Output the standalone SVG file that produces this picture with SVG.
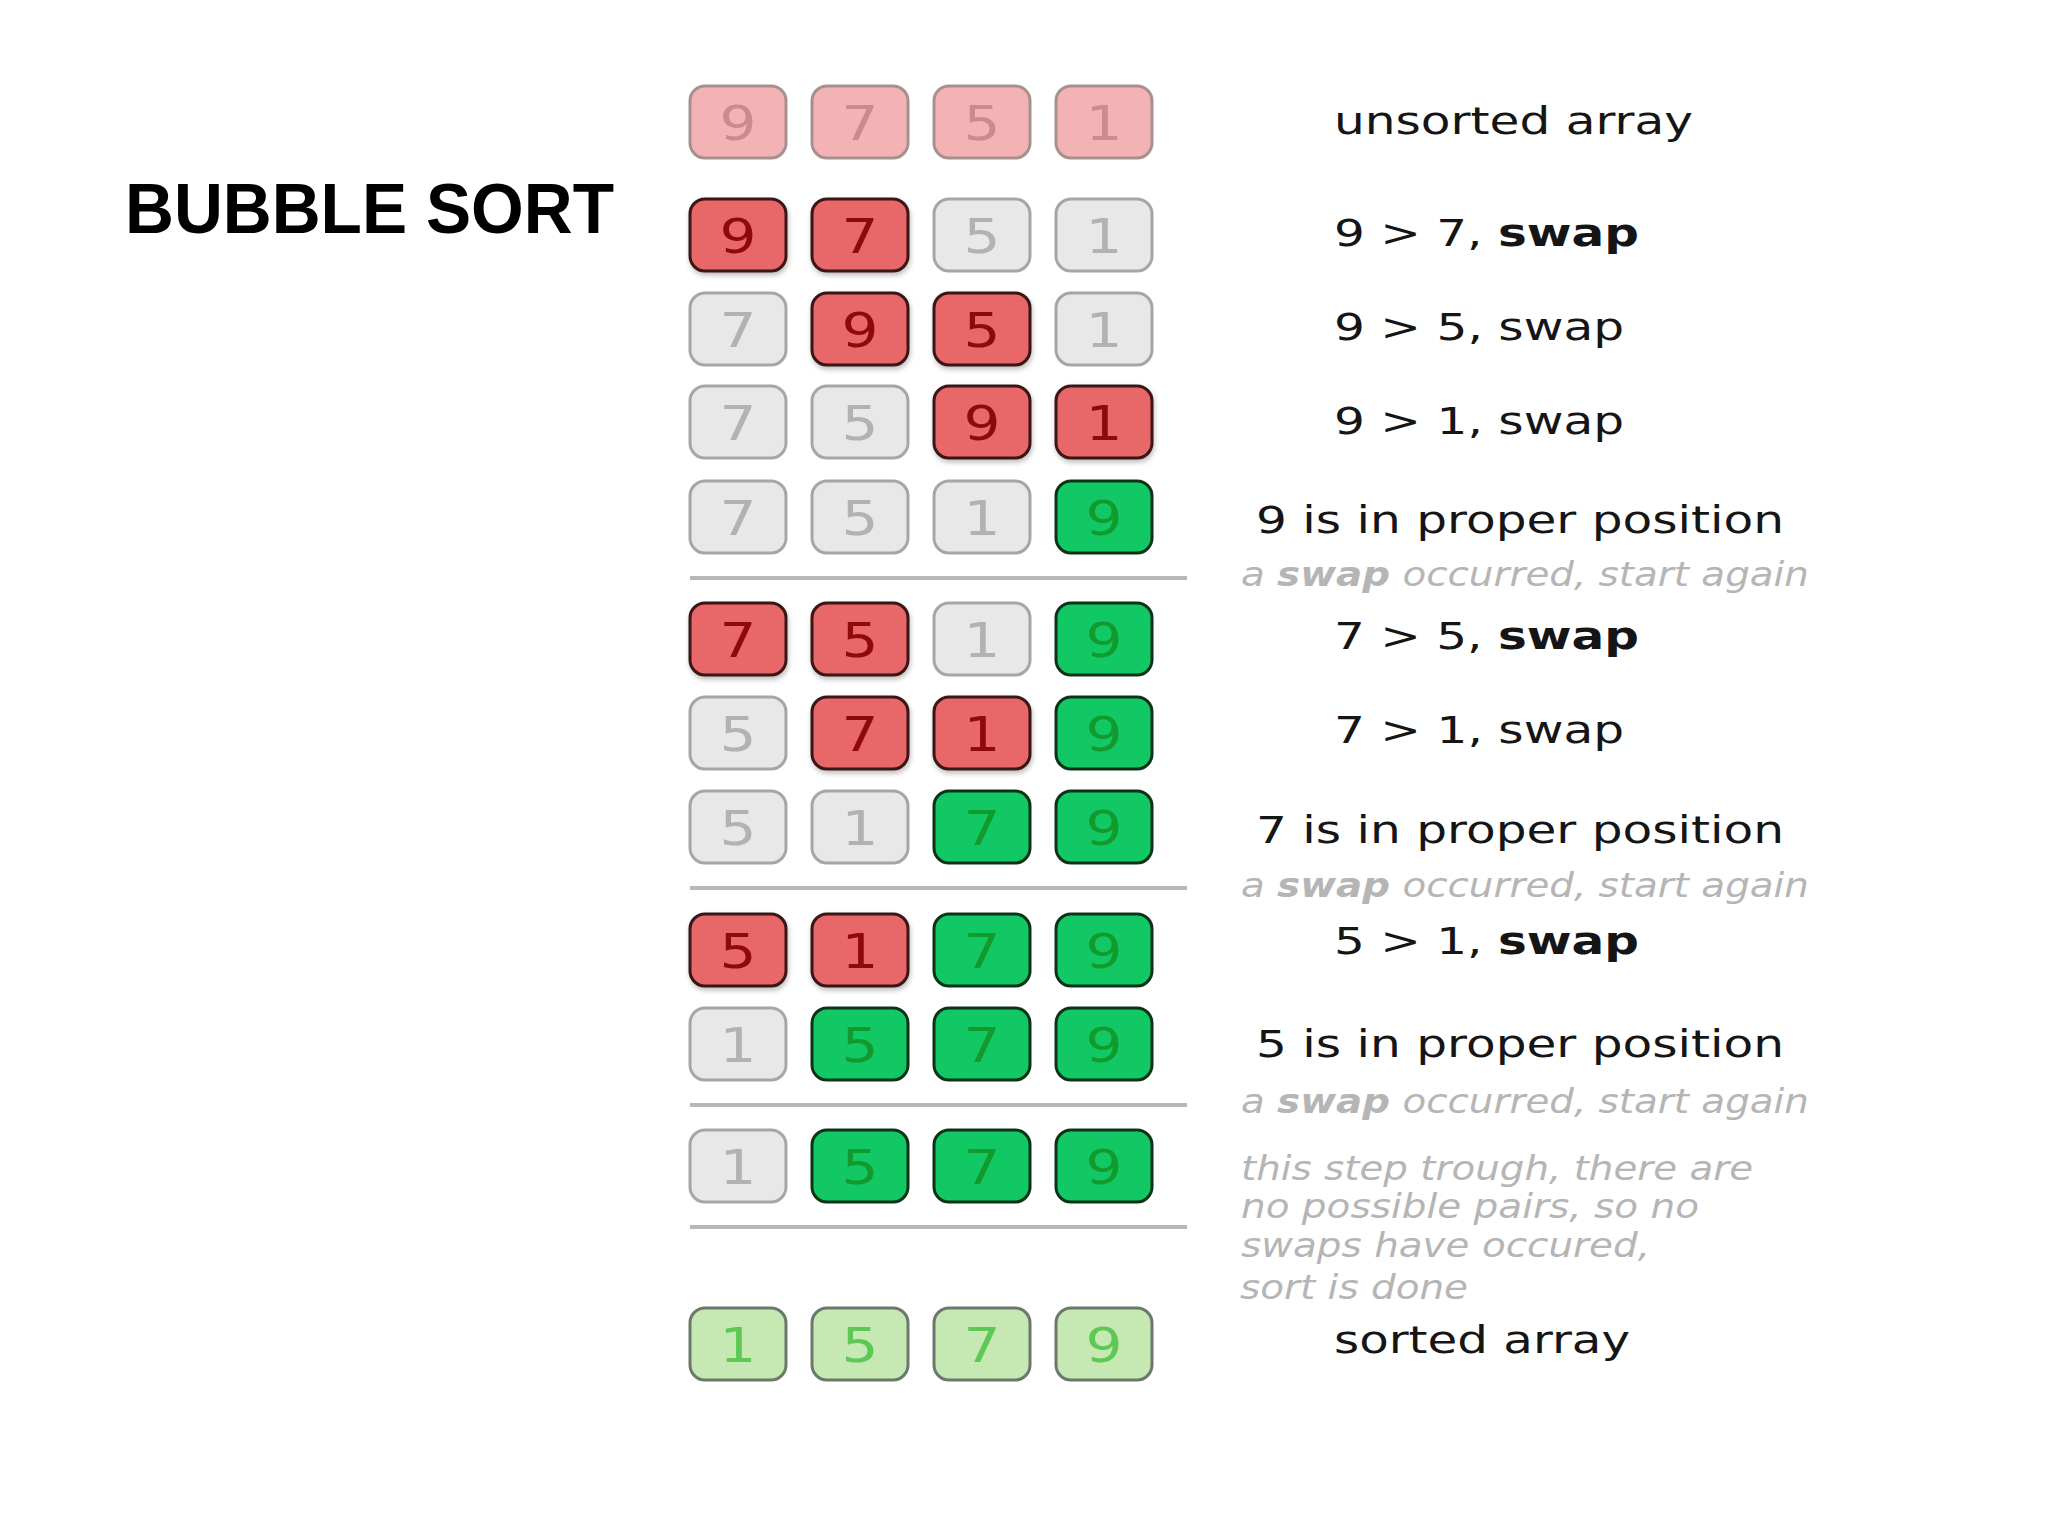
<svg xmlns="http://www.w3.org/2000/svg" width="2048" height="1536" viewBox="0 0 2048 1536">
<defs>
<filter id="sh" x="-20%" y="-20%" width="140%" height="150%"><feDropShadow dx="1" dy="3" stdDeviation="2.5" flood-color="#000" flood-opacity="0.25"/></filter>
</defs>
<style>
.b{stroke-width:3}
.pk{fill:#f3b3b5;stroke:#a8908f}
.rd{fill:#e8676a;stroke:#3b1212;filter:url(#sh)}
.gy{fill:#e8e8e8;stroke:#a6a6a6}
.gn{fill:#12c865;stroke:#0c3318}
.lg{fill:#c6e8b2;stroke:#6d786c}
.d{font-family:"DejaVu Sans",sans-serif;font-size:48px;text-anchor:middle}
.tpk{fill:#c98b8d}.trd{fill:#8e0a0a}.tgy{fill:#b2b2b2}.tgn{fill:#139a2c}.tlg{fill:#5dc954}
.lab{font-family:"DejaVu Sans",sans-serif;font-size:37px;fill:#151515}
.note{font-family:"DejaVu Sans",sans-serif;font-size:33px;font-style:italic;fill:#b5b5b5}
.sep{stroke:#b8b8b8;stroke-width:4}
.title{font-family:"Liberation Sans",Arial,sans-serif;font-size:70px;font-weight:bold;fill:#000}
</style>
<rect width="2048" height="1536" fill="#fff"/>
<text class="title" x="125" y="233" textLength="489" lengthAdjust="spacingAndGlyphs">BUBBLE SORT</text>

<g id="separators">
<line class="sep" x1="690" y1="578" x2="1187" y2="578"/>
<line class="sep" x1="690" y1="888" x2="1187" y2="888"/>
<line class="sep" x1="690" y1="1105" x2="1187" y2="1105"/>
<line class="sep" x1="690" y1="1227" x2="1187" y2="1227"/>
</g>

<g id="row0">
<rect class="b pk" x="690" y="86" width="96" height="72" rx="15"/><text class="d tpk" x="738" y="139.5" textLength="37" lengthAdjust="spacingAndGlyphs">9</text>
<rect class="b pk" x="812" y="86" width="96" height="72" rx="15"/><text class="d tpk" x="860" y="139.5" textLength="37" lengthAdjust="spacingAndGlyphs">7</text>
<rect class="b pk" x="934" y="86" width="96" height="72" rx="15"/><text class="d tpk" x="982" y="139.5" textLength="37" lengthAdjust="spacingAndGlyphs">5</text>
<rect class="b pk" x="1056" y="86" width="96" height="72" rx="15"/><text class="d tpk" x="1104" y="139.5" textLength="37" lengthAdjust="spacingAndGlyphs">1</text>
</g>
<g id="row1">
<rect class="b rd" x="690" y="199" width="96" height="72" rx="15"/><text class="d trd" x="738" y="252.5" textLength="37" lengthAdjust="spacingAndGlyphs">9</text>
<rect class="b rd" x="812" y="199" width="96" height="72" rx="15"/><text class="d trd" x="860" y="252.5" textLength="37" lengthAdjust="spacingAndGlyphs">7</text>
<rect class="b gy" x="934" y="199" width="96" height="72" rx="15"/><text class="d tgy" x="982" y="252.5" textLength="37" lengthAdjust="spacingAndGlyphs">5</text>
<rect class="b gy" x="1056" y="199" width="96" height="72" rx="15"/><text class="d tgy" x="1104" y="252.5" textLength="37" lengthAdjust="spacingAndGlyphs">1</text>
</g>
<g id="row2">
<rect class="b gy" x="690" y="293" width="96" height="72" rx="15"/><text class="d tgy" x="738" y="346.5" textLength="37" lengthAdjust="spacingAndGlyphs">7</text>
<rect class="b rd" x="812" y="293" width="96" height="72" rx="15"/><text class="d trd" x="860" y="346.5" textLength="37" lengthAdjust="spacingAndGlyphs">9</text>
<rect class="b rd" x="934" y="293" width="96" height="72" rx="15"/><text class="d trd" x="982" y="346.5" textLength="37" lengthAdjust="spacingAndGlyphs">5</text>
<rect class="b gy" x="1056" y="293" width="96" height="72" rx="15"/><text class="d tgy" x="1104" y="346.5" textLength="37" lengthAdjust="spacingAndGlyphs">1</text>
</g>
<g id="row3">
<rect class="b gy" x="690" y="386" width="96" height="72" rx="15"/><text class="d tgy" x="738" y="439.5" textLength="37" lengthAdjust="spacingAndGlyphs">7</text>
<rect class="b gy" x="812" y="386" width="96" height="72" rx="15"/><text class="d tgy" x="860" y="439.5" textLength="37" lengthAdjust="spacingAndGlyphs">5</text>
<rect class="b rd" x="934" y="386" width="96" height="72" rx="15"/><text class="d trd" x="982" y="439.5" textLength="37" lengthAdjust="spacingAndGlyphs">9</text>
<rect class="b rd" x="1056" y="386" width="96" height="72" rx="15"/><text class="d trd" x="1104" y="439.5" textLength="37" lengthAdjust="spacingAndGlyphs">1</text>
</g>
<g id="row4">
<rect class="b gy" x="690" y="481" width="96" height="72" rx="15"/><text class="d tgy" x="738" y="534.5" textLength="37" lengthAdjust="spacingAndGlyphs">7</text>
<rect class="b gy" x="812" y="481" width="96" height="72" rx="15"/><text class="d tgy" x="860" y="534.5" textLength="37" lengthAdjust="spacingAndGlyphs">5</text>
<rect class="b gy" x="934" y="481" width="96" height="72" rx="15"/><text class="d tgy" x="982" y="534.5" textLength="37" lengthAdjust="spacingAndGlyphs">1</text>
<rect class="b gn" x="1056" y="481" width="96" height="72" rx="15"/><text class="d tgn" x="1104" y="534.5" textLength="37" lengthAdjust="spacingAndGlyphs">9</text>
</g>
<g id="row5">
<rect class="b rd" x="690" y="603" width="96" height="72" rx="15"/><text class="d trd" x="738" y="656.5" textLength="37" lengthAdjust="spacingAndGlyphs">7</text>
<rect class="b rd" x="812" y="603" width="96" height="72" rx="15"/><text class="d trd" x="860" y="656.5" textLength="37" lengthAdjust="spacingAndGlyphs">5</text>
<rect class="b gy" x="934" y="603" width="96" height="72" rx="15"/><text class="d tgy" x="982" y="656.5" textLength="37" lengthAdjust="spacingAndGlyphs">1</text>
<rect class="b gn" x="1056" y="603" width="96" height="72" rx="15"/><text class="d tgn" x="1104" y="656.5" textLength="37" lengthAdjust="spacingAndGlyphs">9</text>
</g>
<g id="row6">
<rect class="b gy" x="690" y="697" width="96" height="72" rx="15"/><text class="d tgy" x="738" y="750.5" textLength="37" lengthAdjust="spacingAndGlyphs">5</text>
<rect class="b rd" x="812" y="697" width="96" height="72" rx="15"/><text class="d trd" x="860" y="750.5" textLength="37" lengthAdjust="spacingAndGlyphs">7</text>
<rect class="b rd" x="934" y="697" width="96" height="72" rx="15"/><text class="d trd" x="982" y="750.5" textLength="37" lengthAdjust="spacingAndGlyphs">1</text>
<rect class="b gn" x="1056" y="697" width="96" height="72" rx="15"/><text class="d tgn" x="1104" y="750.5" textLength="37" lengthAdjust="spacingAndGlyphs">9</text>
</g>
<g id="row7">
<rect class="b gy" x="690" y="791" width="96" height="72" rx="15"/><text class="d tgy" x="738" y="844.5" textLength="37" lengthAdjust="spacingAndGlyphs">5</text>
<rect class="b gy" x="812" y="791" width="96" height="72" rx="15"/><text class="d tgy" x="860" y="844.5" textLength="37" lengthAdjust="spacingAndGlyphs">1</text>
<rect class="b gn" x="934" y="791" width="96" height="72" rx="15"/><text class="d tgn" x="982" y="844.5" textLength="37" lengthAdjust="spacingAndGlyphs">7</text>
<rect class="b gn" x="1056" y="791" width="96" height="72" rx="15"/><text class="d tgn" x="1104" y="844.5" textLength="37" lengthAdjust="spacingAndGlyphs">9</text>
</g>
<g id="row8">
<rect class="b rd" x="690" y="914" width="96" height="72" rx="15"/><text class="d trd" x="738" y="967.5" textLength="37" lengthAdjust="spacingAndGlyphs">5</text>
<rect class="b rd" x="812" y="914" width="96" height="72" rx="15"/><text class="d trd" x="860" y="967.5" textLength="37" lengthAdjust="spacingAndGlyphs">1</text>
<rect class="b gn" x="934" y="914" width="96" height="72" rx="15"/><text class="d tgn" x="982" y="967.5" textLength="37" lengthAdjust="spacingAndGlyphs">7</text>
<rect class="b gn" x="1056" y="914" width="96" height="72" rx="15"/><text class="d tgn" x="1104" y="967.5" textLength="37" lengthAdjust="spacingAndGlyphs">9</text>
</g>
<g id="row9">
<rect class="b gy" x="690" y="1008" width="96" height="72" rx="15"/><text class="d tgy" x="738" y="1061.5" textLength="37" lengthAdjust="spacingAndGlyphs">1</text>
<rect class="b gn" x="812" y="1008" width="96" height="72" rx="15"/><text class="d tgn" x="860" y="1061.5" textLength="37" lengthAdjust="spacingAndGlyphs">5</text>
<rect class="b gn" x="934" y="1008" width="96" height="72" rx="15"/><text class="d tgn" x="982" y="1061.5" textLength="37" lengthAdjust="spacingAndGlyphs">7</text>
<rect class="b gn" x="1056" y="1008" width="96" height="72" rx="15"/><text class="d tgn" x="1104" y="1061.5" textLength="37" lengthAdjust="spacingAndGlyphs">9</text>
</g>
<g id="row10">
<rect class="b gy" x="690" y="1130" width="96" height="72" rx="15"/><text class="d tgy" x="738" y="1183.5" textLength="37" lengthAdjust="spacingAndGlyphs">1</text>
<rect class="b gn" x="812" y="1130" width="96" height="72" rx="15"/><text class="d tgn" x="860" y="1183.5" textLength="37" lengthAdjust="spacingAndGlyphs">5</text>
<rect class="b gn" x="934" y="1130" width="96" height="72" rx="15"/><text class="d tgn" x="982" y="1183.5" textLength="37" lengthAdjust="spacingAndGlyphs">7</text>
<rect class="b gn" x="1056" y="1130" width="96" height="72" rx="15"/><text class="d tgn" x="1104" y="1183.5" textLength="37" lengthAdjust="spacingAndGlyphs">9</text>
</g>
<g id="row11">
<rect class="b lg" x="690" y="1308" width="96" height="72" rx="15"/><text class="d tlg" x="738" y="1361.5" textLength="37" lengthAdjust="spacingAndGlyphs">1</text>
<rect class="b lg" x="812" y="1308" width="96" height="72" rx="15"/><text class="d tlg" x="860" y="1361.5" textLength="37" lengthAdjust="spacingAndGlyphs">5</text>
<rect class="b lg" x="934" y="1308" width="96" height="72" rx="15"/><text class="d tlg" x="982" y="1361.5" textLength="37" lengthAdjust="spacingAndGlyphs">7</text>
<rect class="b lg" x="1056" y="1308" width="96" height="72" rx="15"/><text class="d tlg" x="1104" y="1361.5" textLength="37" lengthAdjust="spacingAndGlyphs">9</text>
</g>

<g id="labels">
<text class="lab" x="1334" y="134" textLength="359" lengthAdjust="spacingAndGlyphs">unsorted array</text>
<text class="lab" x="1334" y="246" textLength="305" lengthAdjust="spacingAndGlyphs">9 &gt; 7, <tspan font-weight="bold">swap</tspan></text>
<text class="lab" x="1334" y="340" textLength="290" lengthAdjust="spacingAndGlyphs">9 &gt; 5, swap</text>
<text class="lab" x="1334" y="434" textLength="290" lengthAdjust="spacingAndGlyphs">9 &gt; 1, swap</text>
<text class="lab" x="1256" y="533" textLength="528" lengthAdjust="spacingAndGlyphs">9 is in proper position</text>
<text class="note" x="1241" y="586" textLength="568" lengthAdjust="spacingAndGlyphs">a <tspan font-weight="bold">swap</tspan> occurred, start again</text>
<text class="lab" x="1334" y="649" textLength="305" lengthAdjust="spacingAndGlyphs">7 &gt; 5, <tspan font-weight="bold">swap</tspan></text>
<text class="lab" x="1334" y="743" textLength="290" lengthAdjust="spacingAndGlyphs">7 &gt; 1, swap</text>
<text class="lab" x="1256" y="843" textLength="528" lengthAdjust="spacingAndGlyphs">7 is in proper position</text>
<text class="note" x="1241" y="897" textLength="568" lengthAdjust="spacingAndGlyphs">a <tspan font-weight="bold">swap</tspan> occurred, start again</text>
<text class="lab" x="1334" y="954" textLength="305" lengthAdjust="spacingAndGlyphs">5 &gt; 1, <tspan font-weight="bold">swap</tspan></text>
<text class="lab" x="1256" y="1057" textLength="528" lengthAdjust="spacingAndGlyphs">5 is in proper position</text>
<text class="note" x="1241" y="1113" textLength="568" lengthAdjust="spacingAndGlyphs">a <tspan font-weight="bold">swap</tspan> occurred, start again</text>
<text class="note" x="1241" y="1180" textLength="512" lengthAdjust="spacingAndGlyphs">this step trough, there are</text>
<text class="note" x="1241" y="1218" textLength="458" lengthAdjust="spacingAndGlyphs">no possible pairs, so no</text>
<text class="note" x="1241" y="1257" textLength="409" lengthAdjust="spacingAndGlyphs">swaps have occured,</text>
<text class="note" x="1240" y="1299" textLength="228" lengthAdjust="spacingAndGlyphs">sort is done</text>
<text class="lab" x="1334" y="1353" textLength="296" lengthAdjust="spacingAndGlyphs">sorted array</text>
</g>
</svg>
